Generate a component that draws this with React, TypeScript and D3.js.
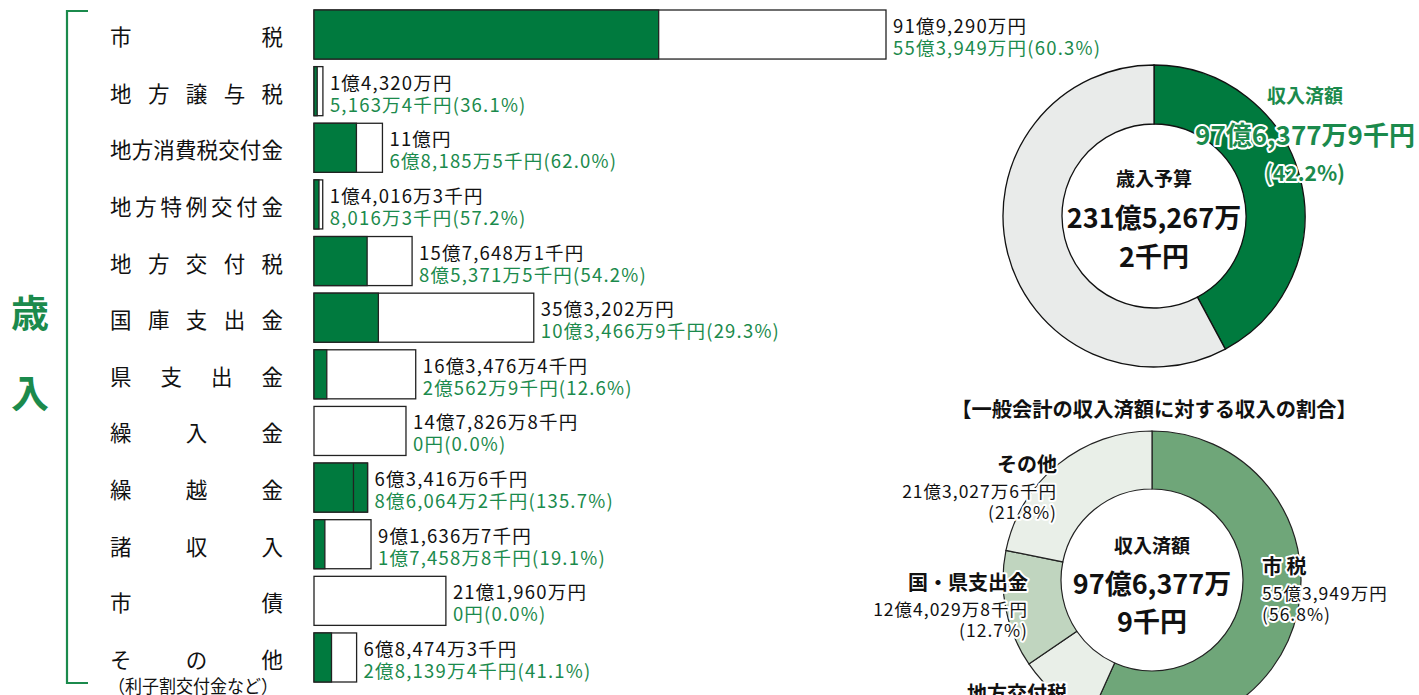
import React, { useEffect, useRef } from 'react';
import * as d3 from 'd3';

// 歳入 (単位: 万円)
const categories = ['市税', '地方譲与税', '地方消費税交付金', '地方特例交付金', '地方交付税', '国庫支出金', '県支出金', '繰入金', '繰越金', '諸収入', '市債', 'その他'];
const budget = [919290, 14320, 110000, 14016.3, 157648.1, 353202, 163476.4, 147826.8, 63416.6, 91636.7, 211960, 68474.3];
const actual = [553949, 5163.4, 68185.5, 8016.3, 85371.5, 103466.9, 20562.9, 0, 86064.2, 17458.8, 0, 28139.4];
const budgetLabels = ['91億9,290万円', '1億4,320万円', '11億円', '1億4,016万3千円', '15億7,648万1千円', '35億3,202万円', '16億3,476万4千円', '14億7,826万8千円', '6億3,416万6千円', '9億1,636万7千円', '21億1,960万円', '6億8,474万3千円'];
const actualLabels = ['55億3,949万円(60.3%)', '5,163万4千円(36.1%)', '6億8,185万5千円(62.0%)', '8,016万3千円(57.2%)', '8億5,371万5千円(54.2%)', '10億3,466万9千円(29.3%)', '2億562万9千円(12.6%)', '0円(0.0%)', '8億6,064万2千円(135.7%)', '1億7,458万8千円(19.1%)', '0円(0.0%)', '2億8,139万4千円(41.1%)'];

// 歳入予算と収入済額
const totalBudget = 2315267.2;
const totalActual = 976377.9;

// 収入済額の内訳
const shareNames = ['市 税', '地方交付税', '国・県支出金', 'その他'];
const shareValues = [553949, 85371.5, 124029.8, 213027.6];
const shareAmounts = ['55億3,949万円', '', '12億4,029万8千円', '21億3,027万6千円'];
const sharePcts = ['(56.8%)', '', '(12.7%)', '(21.8%)'];
const shareColors = ['#6fa679', '#e9efe8', '#c0d5bf', '#e9efe8'];

const GREEN = '#007a3e';
const TEXT_GREEN = '#1b8a4c';
const FONT = '"Noto Sans CJK JP", "Noto Sans", sans-serif';

export default function App() {
  const ref = useRef<SVGSVGElement>(null);

  useEffect(() => {
    const svg = d3.select(ref.current);
    svg.selectAll('*').remove();
    svg.attr('font-family', FONT);

    const x = d3.scaleLinear().domain([0, budget[0]]).range([314, 886]);
    const y = d3.scaleBand().domain(categories).range([10, 682]).paddingInner(0.134).paddingOuter(0);
    const bh = y.bandwidth();

    // bracket + 歳入
    svg.append('path')
      .attr('d', 'M88,11H67V683H88')
      .attr('fill', 'none')
      .attr('stroke', TEXT_GREEN)
      .attr('stroke-width', 2.2);
    svg.append('text').attr('x', 30).attr('y', 310).text('歳')
      .attr('text-anchor', 'middle').attr('dominant-baseline', 'central')
      .attr('font-size', 38).attr('font-weight', 'bold').attr('fill', TEXT_GREEN);
    svg.append('text').attr('x', 30).attr('y', 390).text('入')
      .attr('text-anchor', 'middle').attr('dominant-baseline', 'central')
      .attr('font-size', 38).attr('font-weight', 'bold').attr('fill', TEXT_GREEN);

    // row labels, spread evenly across fixed width
    const labelFs = 21.5;
    categories.forEach((c) => {
      const chars = Array.from(c);
      const n = chars.length;
      const gap = (173 - n * labelFs) / (n - 1);
      const cy = (y(c) as number) + bh / 2 + 1;
      chars.forEach((ch, k) => {
        svg.append('text')
          .attr('x', 110 + k * (labelFs + gap))
          .attr('y', cy)
          .attr('dominant-baseline', 'central')
          .attr('font-size', labelFs)
          .attr('fill', '#111')
          .text(ch);
      });
    });
    svg.append('text').attr('x', 108).attr('y', 685)
      .attr('dominant-baseline', 'central').attr('font-size', 18).attr('fill', '#111')
      .attr('textLength', 170).attr('lengthAdjust', 'spacingAndGlyphs')
      .text('（利子割交付金など）');

    // bars
    const rows = svg.selectAll('.row').data(categories).enter().append('g').attr('class', 'row');
    rows.append('rect')
      .attr('x', x(0))
      .attr('y', c => y(c) as number)
      .attr('width', (c, i) => Math.max(x(budget[i]), x(actual[i])) - x(0))
      .attr('height', bh)
      .attr('fill', '#fff')
      .attr('stroke', '#222')
      .attr('stroke-width', 1.3);
    rows.append('rect')
      .attr('x', x(0))
      .attr('y', c => y(c) as number)
      .attr('width', (c, i) => x(actual[i]) - x(0))
      .attr('height', bh)
      .attr('fill', GREEN)
      .attr('stroke', '#222')
      .attr('stroke-width', 1.3);
    rows.filter((c, i) => actual[i] > budget[i])
      .append('line')
      .attr('x1', (c) => x(budget[categories.indexOf(c)]))
      .attr('x2', (c) => x(budget[categories.indexOf(c)]))
      .attr('y1', c => y(c) as number)
      .attr('y2', c => (y(c) as number) + bh)
      .attr('stroke', '#222')
      .attr('stroke-width', 1.3);
    rows.append('text')
      .attr('x', (c, i) => Math.max(x(budget[i]), x(actual[i])) + 7)
      .attr('y', c => (y(c) as number) + 15)
      .attr('dominant-baseline', 'central')
      .attr('font-size', 18.5)
      .attr('letter-spacing', 1.2)
      .attr('fill', '#111')
      .text((c, i) => budgetLabels[i]);
    rows.append('text')
      .attr('x', (c, i) => Math.max(x(budget[i]), x(actual[i])) + 7)
      .attr('y', c => (y(c) as number) + 37)
      .attr('dominant-baseline', 'central')
      .attr('font-size', 18.5)
      .attr('letter-spacing', 1.2)
      .attr('fill', TEXT_GREEN)
      .text((c, i) => actualLabels[i]);

    const pie = d3.pie<number>().sort(null).value(d => d);

    // donut 1: 歳入予算に対する収入済額
    const d1 = svg.append('g').attr('transform', 'translate(1154,216)');
    const arc1 = d3.arc<d3.PieArcDatum<number>>().innerRadius(92).outerRadius(151);
    d1.selectAll('path').data(pie([totalActual, totalBudget - totalActual])).enter().append('path')
      .attr('d', arc1)
      .attr('fill', (d, i) => i === 0 ? GREEN : '#e9ebea')
      .attr('stroke', '#111')
      .attr('stroke-width', 1.3);
    const c1 = [
      { t: '歳入予算', dy: -39, fs: 19 },
      { t: '231億5,267万', dy: 0, fs: 27 },
      { t: '2千円', dy: 39, fs: 27 },
    ];
    d1.selectAll('.ct').data(c1).enter().append('text')
      .attr('y', d => d.dy)
      .attr('text-anchor', 'middle').attr('dominant-baseline', 'central')
      .attr('font-size', d => d.fs).attr('font-weight', 'bold').attr('fill', '#111')
      .text(d => d.t);
    const l1 = [
      { t: '収入済額', dy: -122, fs: 19 },
      { t: '97億6,377万9千円', dy: -83, fs: 26 },
      { t: '(42.2%)', dy: -44, fs: 21 },
    ];
    d1.selectAll('.lt').data(l1).enter().append('text')
      .attr('x', 151)
      .attr('y', d => d.dy)
      .attr('text-anchor', 'middle').attr('dominant-baseline', 'central')
      .attr('font-size', d => d.fs).attr('font-weight', 'bold').attr('fill', TEXT_GREEN)
      .attr('stroke', '#fff').attr('stroke-width', 4).attr('paint-order', 'stroke')
      .attr('stroke-linejoin', 'round')
      .text(d => d.t);

    // donut 2: 収入済額の内訳
    svg.append('text').attr('x', 1154).attr('y', 408)
      .attr('text-anchor', 'middle').attr('dominant-baseline', 'central')
      .attr('font-size', 20.3).attr('font-weight', 'bold').attr('fill', '#111')
      .text('【一般会計の収入済額に対する収入の割合】');
    const d2 = svg.append('g').attr('transform', 'translate(1152,580)');
    const arc2 = d3.arc<d3.PieArcDatum<number>>().innerRadius(91).outerRadius(149);
    d2.selectAll('path').data(pie(shareValues)).enter().append('path')
      .attr('d', arc2)
      .attr('fill', (d, i) => shareColors[i])
      .attr('stroke', '#222')
      .attr('stroke-width', 1.2);
    const c2 = [
      { t: '収入済額', dy: -36, fs: 19 },
      { t: '97億6,377万', dy: 2, fs: 27 },
      { t: '9千円', dy: 40, fs: 27 },
    ];
    d2.selectAll('.ct').data(c2).enter().append('text')
      .attr('y', d => d.dy)
      .attr('text-anchor', 'middle').attr('dominant-baseline', 'central')
      .attr('font-size', d => d.fs).attr('font-weight', 'bold').attr('fill', '#111')
      .text(d => d.t);

    // label anchors relative to the donut centre
    const anchors = [
      { x: 110, y: -15, anchor: 'start' },
      { x: -85, y: 112, anchor: 'end' },
      { x: -124, y: 1, anchor: 'end' },
      { x: -95, y: -117, anchor: 'end' },
    ];
    shareNames.forEach((name, i) => {
      const a = anchors[i];
      const g = d2.append('g').attr('transform', `translate(${a.x},${a.y})`);
      const lines = [{ t: name, dy: 0, fs: 20, w: 'bold', ls: 0 }];
      if (shareAmounts[i]) {
        lines.push({ t: shareAmounts[i], dy: 27, fs: 17.5, w: 'normal', ls: 1 });
        lines.push({ t: sharePcts[i], dy: 48, fs: 17.5, w: 'normal', ls: 1 });
      }
      lines.forEach(l => {
        g.append('text')
          .attr('y', l.dy)
          .attr('text-anchor', a.anchor)
          .attr('dominant-baseline', 'central')
          .attr('font-size', l.fs).attr('font-weight', l.w).attr('fill', '#111')
          .attr('letter-spacing', l.ls)
          .attr('stroke', '#fff').attr('stroke-width', 4).attr('paint-order', 'stroke')
          .attr('stroke-linejoin', 'round')
          .text(l.t);
      });
    });
  }, []);

  return (
    <div style={{ position: 'absolute', left: 0, top: 0 }}>
      <svg ref={ref} width={1419} height={695} style={{ display: 'block', background: '#fff' }} />
    </div>
  );
}
